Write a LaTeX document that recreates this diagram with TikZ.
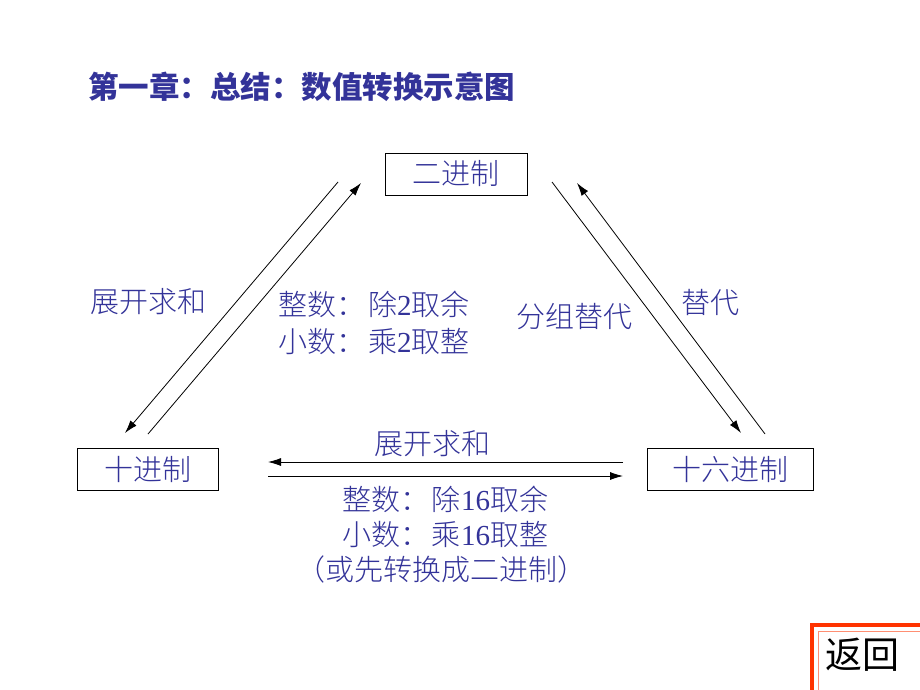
\documentclass[tikz,border=0pt]{standalone}
\usepackage{fontspec}
\setmainfont{Liberation Serif}
\newfontfamily\cjk{Noto Sans CJK SC}
\newfontfamily\cjklt{Noto Sans CJK SC Light}
\usetikzlibrary{arrows.meta}
\definecolor{txt}{RGB}{51,51,153}
\definecolor{retred}{RGB}{255,51,0}
\newcommand{\numd}[1]{{\rmfamily #1}}
\begin{document}
\begin{tikzpicture}[x=1pt,y=-1pt,
  lbl/.style={text=txt, font=\cjklt\fontsize{29}{32}\selectfont, inner sep=0pt},
  box/.style={lbl, draw=black, line width=1pt, minimum height=42pt},
  conn/.style={line width=0.8pt, -{Latex[length=13pt,width=8pt]}}]
\useasboundingbox[fill=white] (0,0) rectangle (920,690);

% title
\node[lbl, anchor=west, font=\cjk\bfseries\fontsize{30.5}{34}\selectfont] (title) at (88,87) {第一章：总结：数值转换示意图};

% boxes
\node[box, minimum width=142pt] (bin) at (456,174) {二进制};
\node[box, minimum width=141pt] (dec) at (147.5,469) {十进制};
\node[box, minimum width=166pt] (hex) at (730,469) {十六进制};

% connector end points
\coordinate (l1s) at (338,182); \coordinate (l1e) at (125,433);
\coordinate (l2s) at (148,434); \coordinate (l2e) at (361,183);
\coordinate (r1s) at (552,182); \coordinate (r1e) at (741,433);
\coordinate (r2s) at (765,434); \coordinate (r2e) at (577,183);
\coordinate (h1s) at (623,462); \coordinate (h1e) at (268,462);
\coordinate (h2s) at (268,476); \coordinate (h2e) at (623,476);

\draw[conn] (l1s) -- (l1e);
\draw[conn] (l2s) -- (l2e);
\draw[conn] (r1s) -- (r1e);
\draw[conn] (r2s) -- (r2e);
\draw[conn] (h1s) -- (h1e);
\draw[conn] (h2s) -- (h2e);

% labels
\node[lbl] (lsum) at (148,302) {展开求和};
\node[lbl, anchor=west] (lint) at (278,304) {整数：\kern3pt 除\numd{2}取余};
\node[lbl, anchor=west] (lfrac) at (278,341) {小数：\kern3pt 乘\numd{2}取整};
\node[lbl] (group) at (574,317) {分组替代};
\node[lbl] (repl) at (710,303) {替代};
\node[lbl] (bsum) at (432,444) {展开求和};
\node[lbl] (bint) at (445,499) {整数：\kern3pt 除\numd{16}取余};
\node[lbl] (bfrac) at (445,534) {小数：\kern3pt 乘\numd{16}取整};
\node[lbl] (bnote) at (441,569) {（或先转换成二进制）};

% return button
\draw[retred, line width=3.5pt] (812,625) rectangle (935,705);
\draw[retred!55, line width=1pt] (818,631) rectangle (935,705);
\node[lbl, text=black, font=\cjk\fontsize{37}{40}\selectfont] (ret) at (862,655) {返回};
\end{tikzpicture}
\end{document}
